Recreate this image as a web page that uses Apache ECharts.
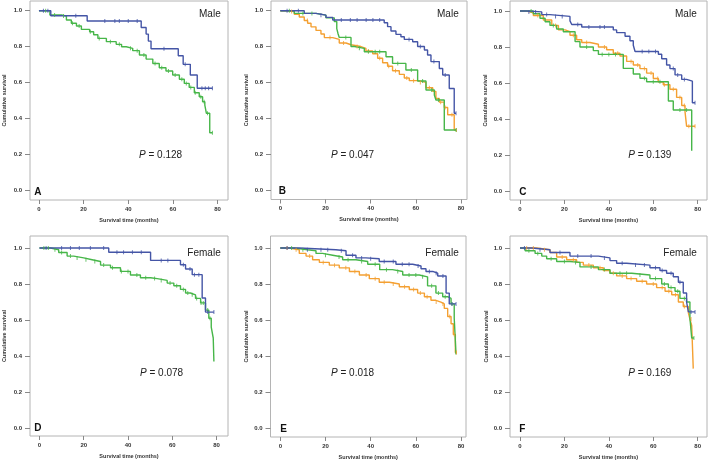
<!DOCTYPE html>
<html><head><meta charset="utf-8">
<script src="https://cdn.jsdelivr.net/npm/echarts@6/dist/echarts.min.js"></script>
<style>html,body{margin:0;padding:0;background:#fff}#c{width:709px;height:461px}</style>
</head><body><div id="c"></div>
<script>
// ---- data: Kaplan-Meier step points [months, cumulative survival] ----
const xTicks = [0, 20, 40, 60, 80];
const yTicks = [0, 0.2, 0.4, 0.6, 0.8, 1.0];
const panelLetters = ['A','B','C','D','E','F'];
const panelSex = ['Male','Male','Male','Female','Female','Female'];
const pValues = ['0.128','0.047','0.139','0.078','0.018','0.169'];

const A_blue = [[0,1],[5.3,0.972],[21.6,0.943],[45.8,0.907],[48,0.87],[49,0.831],[50.2,0.789],[62.4,0.75],[64.6,0.702],[67.8,0.643],[70.9,0.569],[77.7,0.569]];
const A_green = [[0,1],[4.9,0.976],[10.1,0.97],[12.3,0.948],[14.5,0.93],[16.8,0.915],[19,0.896],[22.7,0.883],[24.5,0.866],[26.4,0.846],[30.2,0.828],[34.6,0.813],[37,0.80],[39.1,0.791],[42,0.778],[45,0.754],[48,0.731],[51,0.707],[53.9,0.683],[56.9,0.665],[59.9,0.643],[62.9,0.619],[65.1,0.596],[67.3,0.574],[69.6,0.544],[71.8,0.522],[73.3,0.494],[74.3,0.476],[75,0.43],[76.5,0.322],[77.7,0.322]];
const B_blue = [[0,1],[10.6,0.985],[15.8,0.975],[20.2,0.963],[23.2,0.948],[46,0.933],[47.5,0.911],[49,0.887],[51.2,0.868],[53.4,0.855],[54.9,0.84],[58.6,0.827],[60.8,0.80],[63.8,0.781],[65.2,0.753],[66.7,0.716],[70.4,0.678],[71.9,0.641],[74.8,0.566],[77,0.428],[77.8,0.428]];
const B_green = [[0,1],[6.2,0.985],[15.8,0.975],[20.2,0.96],[23.9,0.94],[25,0.90],[25.6,0.87],[26.1,0.851],[31.3,0.80],[32.8,0.79],[37.2,0.771],[46.8,0.743],[49.7,0.706],[55.6,0.669],[60.8,0.608],[64.5,0.558],[68.2,0.53],[68.9,0.502],[72.6,0.335],[77.8,0.335]];
const B_orange = [[0,1],[2.5,0.995],[6.2,0.98],[8.4,0.965],[10.6,0.945],[12.1,0.93],[13.6,0.91],[15.8,0.89],[18,0.87],[19.5,0.85],[23.2,0.84],[26.1,0.82],[29.1,0.81],[31.3,0.80],[35.7,0.79],[37.9,0.775],[40.9,0.76],[43.1,0.735],[45.3,0.71],[47.5,0.69],[49.7,0.665],[52.7,0.645],[54.9,0.625],[57.1,0.61],[60.8,0.60],[64.5,0.57],[67.5,0.55],[68.9,0.51],[70.4,0.49],[72.6,0.46],[74.1,0.42],[77,0.335],[78,0.335]];
const C_blue = [[0,1],[3,0.995],[9.8,0.98],[13.5,0.97],[22.5,0.945],[23.3,0.925],[27.8,0.911],[42,0.895],[43.5,0.88],[47.3,0.86],[49.5,0.835],[51,0.81],[51.8,0.775],[62.3,0.76],[63.8,0.735],[66,0.70],[67.5,0.68],[69.8,0.645],[72.8,0.62],[75,0.61],[77.6,0.49],[78.8,0.49]];
const C_green = [[0,1],[6,0.985],[9,0.96],[11.3,0.94],[13.5,0.92],[16.5,0.90],[19.5,0.885],[24.8,0.83],[27,0.80],[33,0.78],[35.3,0.759],[46.5,0.681],[51,0.65],[54,0.626],[57,0.607],[66.8,0.50],[69,0.45],[77.3,0.224],[77.6,0.224]];
const C_orange = [[0,1],[3,0.99],[6,0.975],[10.5,0.95],[14.3,0.92],[17.3,0.895],[20.3,0.885],[22.5,0.865],[25.5,0.84],[27.8,0.825],[31.5,0.815],[35.3,0.80],[39,0.785],[42,0.765],[45,0.75],[48,0.72],[51,0.70],[54,0.68],[57,0.655],[60,0.625],[62.3,0.605],[64.5,0.59],[67.5,0.565],[70.5,0.52],[72.8,0.475],[74.3,0.44],[75,0.36],[78.8,0.36]];
const D_blue = [[0,1],[31.3,0.976],[50.2,0.931],[63.7,0.907],[66,0.883],[69,0.852],[73.5,0.722],[75,0.644],[78.8,0.644]];
const D_green = [[0,1],[5,0.99],[8.7,0.975],[12.5,0.955],[15.5,0.945],[20,0.935],[23.8,0.925],[27.6,0.905],[32.1,0.89],[36.6,0.87],[41.1,0.85],[45.6,0.835],[50.2,0.83],[53.2,0.82],[57.7,0.805],[60.7,0.79],[63.7,0.77],[66,0.75],[68.2,0.74],[70.5,0.72],[72.8,0.695],[75,0.655],[76.5,0.61],[77.6,0.56],[78.5,0.50],[78.8,0.37],[78.9,0.37]];
const E_blue = [[0,1],[8.4,0.99],[24.6,0.985],[29.1,0.96],[33.5,0.945],[37.9,0.94],[43.8,0.925],[51.2,0.91],[58.6,0.90],[62.3,0.885],[64.5,0.87],[67.5,0.86],[69.7,0.845],[73.4,0.75],[74.8,0.69],[77.8,0.69]];
const E_green = [[0,1],[6.2,0.99],[12.1,0.985],[15.8,0.97],[18.7,0.96],[23.2,0.95],[27.6,0.935],[33.5,0.925],[38.7,0.91],[44,0.88],[49.7,0.87],[54.2,0.85],[61.5,0.84],[65.2,0.79],[68.9,0.75],[71.9,0.73],[74.1,0.72],[75.6,0.69],[77,0.61],[77.8,0.41],[77.9,0.41]];
const E_orange = [[0,1],[4,0.99],[8.4,0.97],[11.4,0.955],[14.3,0.935],[17.3,0.92],[21.7,0.905],[26.1,0.89],[30.6,0.87],[35,0.85],[39.4,0.83],[43.8,0.81],[48.3,0.80],[52.7,0.785],[57.1,0.77],[60.8,0.75],[63.8,0.73],[66.7,0.71],[68.9,0.70],[71.1,0.69],[72.6,0.665],[74.1,0.62],[75.6,0.58],[76.6,0.52],[77.5,0.42],[78,0.42]];
const F_blue = [[0,1],[5.3,0.99],[13.5,0.975],[22.5,0.955],[35.3,0.945],[40.5,0.93],[43.5,0.915],[48,0.905],[58.5,0.89],[63,0.875],[66,0.86],[69,0.84],[71.3,0.81],[73.5,0.75],[75,0.70],[75.8,0.645],[78.8,0.645]];
const F_green = [[0,1],[2.3,0.985],[6.8,0.97],[9.8,0.955],[12,0.94],[16.5,0.925],[22.5,0.92],[27,0.895],[35.3,0.88],[40.5,0.86],[50.3,0.85],[58.5,0.83],[63.8,0.80],[66.8,0.78],[69.8,0.76],[72,0.72],[75,0.70],[76.5,0.61],[77.3,0.50],[78.3,0.50]];
const F_orange = [[0,1],[7.5,0.99],[13.5,0.975],[16.5,0.95],[21,0.935],[25.5,0.92],[28.5,0.905],[33,0.89],[37.5,0.875],[40.5,0.86],[43.5,0.845],[48,0.83],[52.5,0.815],[57,0.80],[61.5,0.78],[65.3,0.76],[68.3,0.74],[71.3,0.70],[73.5,0.675],[75.8,0.64],[76.5,0.605],[77.3,0.57],[78,0.33],[78.1,0.33]];

// censored times (small vertical ticks)
const A_blue_cens = [2,4,16.5,29.5,34,36,40,44,56,65.5,73,74.5,76,77.7];
const A_green_cens = [3,7,11,15,18,23,27,32,36,41,44,47,52,55,58,61,64,66,68,70,72.5,74,75.5,77.7];
const B_blue_cens = [3,8,18,27,31,34,38,41,44,57,62,68,73,77.8];
const B_green_cens = [4,10,14,29,35,39,42,44,52,58,63,67,70,77.8];
const B_orange_cens = [5,12,22,28,34,39,44,48,51,56,59,62,66,71,73,76,78];
const C_blue_cens = [4,7,12,16,19,26,31,36,38,55,58,61,69,71,74,78.8];
const C_green_cens = [5,15,30,37,40,43,56,60,63,72,75];
const C_orange_cens = [8,16,24,30,38,44,50,53,56,59,62,65,69,72,74,76,78.8];
const D_blue_cens = [3,10,14,18,23,29,35,38,42,46,55,58,65,68,70,72,76,78.8];
const D_green_cens = [2,4,7,10,14,17,21,25,29,33,37,40,44,48,52,55,59,62,65,67,69,71,73,74,76,77];
const E_blue_cens = [3,12,18,21,27,32,36,40,46,50,54,57,61,66,69,72,76,77.8];
const E_green_cens = [5,10,20,26,30,36,42,47,52,57,60,63,67,70,73,76];
const E_orange_cens = [3,7,13,19,24,29,33,38,42,46,50,55,59,62,65,69,72,75,77,78];
const F_blue_cens = [2,9,18,26,32,38,46,52,56,61,64,68,72,77,78.8];
const F_green_cens = [4,8,14,20,25,32,38,45,48,54,61,65,68,71,74,78.3];
const F_orange_cens = [3,6,11,19,24,31,36,42,46,50,55,60,64,67,70,74,77];

// ---- styling / layout ----
const COL = {blue:'#4455a6', green:'#47b649', orange:'#f4a032'};
const FONT = 'Liberation Sans, Arial, Helvetica, sans-serif';
// frame [L,T,R,B] and pixel positions of tick 0 / 80 (x) and 0 / 1 (y)
const layouts = [
  {L:29, T:1, R:228, B:200, x0:38, x80:217.5, y0:190.7, y1:10.7, sexX:220.7, sexY:14.7, pX:139, pY:155.3, lX:34.3, lY:192.3, gap:23},
  {L:271, T:1, R:467, B:199.5, x0:280.3, x80:461, y0:190, y1:10.7, sexX:458.7, sexY:14.7, pX:331, pY:155, lX:278.7, lY:191.7, gap:22},
  {L:510, T:1, R:707, B:200, x0:520, x80:697.7, y0:191, y1:11, sexX:696.7, sexY:14.7, pX:628.3, pY:155.3, lX:519.3, lY:192.3, gap:22},
  {L:29, T:236, R:228, B:436, x0:38.5, x80:216.5, y0:428, y1:248, sexX:220.7, sexY:253, pX:140, pY:373.7, lX:34.3, lY:428, gap:23},
  {L:270.5, T:236, R:466, B:437, x0:280.3, x80:461, y0:428.3, y1:248, sexX:458.7, sexY:253, pX:331, pY:373.7, lX:280.3, lY:429, gap:21},
  {L:510, T:236, R:707, B:437, x0:520, x80:697.7, y0:428, y1:248, sexX:696.7, sexY:253, pX:628.3, pY:373.7, lX:519.3, lY:429, gap:21}
];
const curves = [
  [[A_green,'green',A_green_cens],[A_blue,'blue',A_blue_cens]],
  [[B_orange,'orange',B_orange_cens],[B_green,'green',B_green_cens],[B_blue,'blue',B_blue_cens]],
  [[C_orange,'orange',C_orange_cens],[C_green,'green',C_green_cens],[C_blue,'blue',C_blue_cens]],
  [[D_green,'green',D_green_cens],[D_blue,'blue',D_blue_cens]],
  [[E_orange,'orange',E_orange_cens],[E_green,'green',E_green_cens],[E_blue,'blue',E_blue_cens]],
  [[F_orange,'orange',F_orange_cens],[F_green,'green',F_green_cens],[F_blue,'blue',F_blue_cens]]
];
function survAt(curve, t){ let s = curve[0][1]; for (const p of curve){ if (p[0] <= t) s = p[1]; } return s; }

const grid=[], xAxis=[], yAxis=[], series=[], graphic=[];
layouts.forEach((g,i)=>{
  grid.push({left:g.L, top:g.T, width:g.R-g.L, height:g.B-g.T, show:true, borderColor:'#b4b4b4', borderWidth:1, backgroundColor:'transparent', containLabel:false});
  xAxis.push({type:'value', gridIndex:i, position:'bottom',
    min:80*(g.L-g.x0)/(g.x80-g.x0), max:80*(g.R-g.x0)/(g.x80-g.x0),
    axisLine:{show:false, onZero:false}, splitLine:{show:false},
    axisTick:{show:true, customValues:xTicks, length:4, lineStyle:{color:'#888'}},
    axisLabel:{customValues:xTicks, fontSize:6, fontWeight:'bold', color:'#333', fontFamily:FONT, margin:6},
    name:'Survival time (months)', nameLocation:'middle', nameGap:17,
    nameTextStyle:{fontSize:5.5, fontWeight:'bold', color:'#333', fontFamily:FONT}});
  yAxis.push({type:'value', gridIndex:i, position:'left',
    min:(g.y0-g.B)/(g.y0-g.y1), max:(g.y0-g.T)/(g.y0-g.y1),
    axisLine:{show:false, onZero:false}, splitLine:{show:false},
    axisTick:{show:true, customValues:yTicks, length:5, lineStyle:{color:'#888'}},
    axisLabel:{customValues:yTicks, fontSize:6, fontWeight:'bold', color:'#333', fontFamily:FONT, margin:8, formatter:v=>v.toFixed(1)},
    name:'Cumulative survival', nameLocation:'middle', nameGap:g.gap,
    nameTextStyle:{fontSize:5.5, fontWeight:'bold', color:'#333', fontFamily:FONT}});
  curves[i].forEach(([data,c,cens])=>{
    series.push({type:'line', xAxisIndex:i, yAxisIndex:i, data:data, step:'end', symbol:'none',
      lineStyle:{width:1.4, color:COL[c]}, itemStyle:{color:COL[c]}, animation:false, silent:true, z:2});
    series.push({type:'scatter', xAxisIndex:i, yAxisIndex:i, data:cens.map(t=>[t, survAt(data,t)]),
      symbol:'rect', symbolSize:[1,4], itemStyle:{color:COL[c], opacity:0.8}, animation:false, silent:true, z:3});
  });
  graphic.push({type:'text', x:g.sexX, y:g.sexY, style:{text:panelSex[i], fill:'#222', font:'10px '+FONT, align:'right', verticalAlign:'middle'}});
  graphic.push({type:'text', x:g.pX, y:g.pY, style:{text:'{i|P} = '+pValues[i], fill:'#222', font:'10px '+FONT, align:'left', verticalAlign:'middle',
     rich:{i:{fontStyle:'italic', fontSize:10, fontFamily:FONT, fill:'#222'}}}});
  graphic.push({type:'text', x:g.lX, y:g.lY, style:{text:panelLetters[i], fill:'#111', font:'bold 10px '+FONT, align:'left', verticalAlign:'middle'}});
});

const chart = echarts.init(document.getElementById('c'), null, {renderer:'canvas'});
chart.setOption({animation:false, backgroundColor:'#fff', grid, xAxis, yAxis, series, graphic});
</script></body></html>
